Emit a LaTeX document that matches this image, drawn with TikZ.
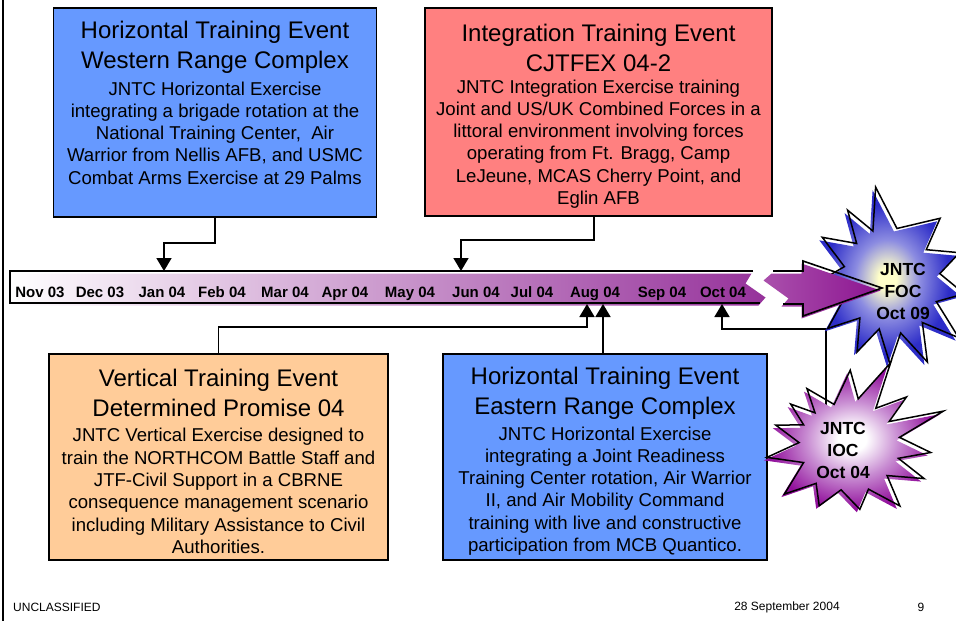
\documentclass[tikz,border=0pt]{standalone}
\usepackage{fontspec}
\setmainfont{Liberation Sans}
\usetikzlibrary{arrows.meta}
\definecolor{boxblue}{RGB}{102,153,255}
\definecolor{boxred}{RGB}{255,128,128}
\definecolor{boxorange}{RGB}{255,204,153}
\definecolor{barpurple}{RGB}{150,50,155}
\definecolor{arrowL}{RGB}{170,80,172}
\definecolor{arrowR}{RGB}{140,20,145}
\definecolor{focblue}{RGB}{45,45,200}
\definecolor{focmid}{RGB}{140,140,225}
\definecolor{foccenter}{RGB}{255,255,200}
\definecolor{iocpurple}{RGB}{145,15,155}
\definecolor{iocmid}{RGB}{200,140,210}
\pgfdeclareradialshading{focsh}{\pgfpointorigin}{color(0bp)=(foccenter); color(3bp)=(foccenter); color(11bp)=(focmid); color(21bp)=(focblue); color(50bp)=(focblue)}
\pgfdeclareradialshading{iocsh}{\pgfpointorigin}{color(0bp)=(white); color(4bp)=(white); color(13bp)=(iocmid); color(24bp)=(iocpurple); color(50bp)=(iocpurple)}
\def\focpts{(-99:92) -- (-82:50) -- (-50:78) -- (-38:46) -- (-20:74) -- (-5:50) -- (12:76) -- (27:52) -- (41:91) -- (54:55) -- (66:92) -- (79:56) -- (90:86) -- (102:52) -- (114:81) -- (127:50) -- (141:80) -- (158:48) -- (176:74) -- (194:47) -- (211:79) -- (226:48) -- (238:80) -- (250:50) -- cycle}
\def\iocpts{(-124:68) -- (-105:42) -- (-86:75) -- (-74:48) -- (-61:94) -- (-50:48) -- (-38:78) -- (-28:50) -- (-19:104) -- (-8:55) -- (5:86) -- (14:55) -- (23:86) -- (36:52) -- (48:82) -- (62:50) -- (77:66) -- (95:45) -- (113:66) -- (127:48) -- (141:78) -- (157:45) -- (171:79) -- (183:46) -- (196:72) -- (206:46) -- (217:68) -- (227:44) -- cycle}
\begin{document}
\begin{tikzpicture}[x=1pt,y=-1pt,
  evbox/.style={draw=black,line width=1.6pt,inner sep=0pt},
  ttl/.style={inner sep=0pt,align=center,font=\fontsize{24}{30}\selectfont},
  bdy/.style={inner sep=0pt,align=center,font=\fontsize{18.6}{22.3}\selectfont},
  mon/.style={inner sep=0pt,anchor=base,font=\bfseries\fontsize{15}{17}\selectfont},
  startxt/.style={inner sep=0pt,align=center,font=\bfseries\fontsize{17.5}{22}\selectfont},
  conn/.style={line width=1.6pt,-{Triangle[width=15pt,length=13pt]}},
  outl/.style={line width=1.6pt},
  starline/.style={line width=1.5pt,line join=miter},
  foot/.style={inner sep=0pt,font=\fontsize{12}{14}\selectfont}]
\useasboundingbox (0,0) rectangle (956,621);
\draw[outl] (3,0) -- (3,621);

% event boxes
\node[evbox,fill=boxblue,minimum width=323pt,minimum height=209pt] (west) at (215,112.5) {};
\node[evbox,fill=boxred,minimum width=347pt,minimum height=208pt] (integ) at (598.5,112) {};
\node[evbox,fill=boxorange,minimum width=339pt,minimum height=206pt] (vert) at (218.5,457) {};
\node[evbox,fill=boxblue,minimum width=324pt,minimum height=206pt] (east) at (605,457) {};

\node[ttl] (westT) at (215,47) {Horizontal Training Event\\Western Range Complex};
\node[bdy] (westB) at (215,133) {JNTC Horizontal Exercise\\integrating a brigade rotation at the\\National Training Center,~ Air\\Warrior from Nellis AFB, and USMC\\Combat Arms Exercise at 29 Palms};
\node[ttl] (integT) at (598.5,47.5) {Integration Training Event\\CJTFEX 04-2};
\node[bdy] (integB) at (598.5,144) {JNTC Integration Exercise training\\Joint and US/UK Combined Forces in a\\littoral environment involving forces\\operating from Ft. Bragg, Camp\\LeJeune, MCAS Cherry Point, and\\Eglin AFB};
\node[ttl] (vertT) at (218.5,393) {Vertical Training Event\\Determined Promise 04};
\node[bdy] (vertB) at (218.5,491) {JNTC Vertical Exercise designed to\\train the NORTHCOM Battle Staff and\\JTF-Civil Support in a CBRNE\\consequence management scenario\\including Military Assistance to Civil\\Authorities.};
\node[ttl] (eastT) at (605,393) {Horizontal Training Event\\Eastern Range Complex};
\node[bdy] (eastB) at (605,491) {JNTC Horizontal Exercise\\integrating a Joint Readiness\\Training Center rotation, Air Warrior\\II, and Air Mobility Command\\training with live and constructive\\participation from MCB Quantico.};

% timeline bar
\shade[left color=white,right color=barpurple,shift={(-1.5,2.5)}] (10,271) -- (753,271) -- (747,281) -- (767,295) -- (760,303) -- (10,303) -- cycle;
\draw[outl] (753,271) -- (10,271) -- (10,303) -- (760,303);

\foreach \n/\x/\t in {m1/40/Nov 03,m2/100/Dec 03,m3/162/Jan 04,m4/222/Feb 04,m5/285/Mar 04,m6/345/Apr 04,m7/410/May 04,m8/476/Jun 04,m9/532/Jul 04,m10/595/Aug 04,m11/662/Sep 04,m12/723/Oct 04}
  \node[mon] (\n) at (\x,297) {\t};

% connector end points
\coordinate (tJan) at (164,271);
\coordinate (tJun) at (461,271);
\coordinate (bAugA) at (587,304);
\coordinate (bAugB) at (603,304);
\coordinate (bOct) at (722,304);
\coordinate (ioc) at (845,445);
\coordinate (foc) at (890,278);

\draw[conn] (west.south) -- ++(0,25) -| (tJan);
\draw[conn] ([xshift=-4.5pt]integ.south) -- ++(0,23) -| (tJun);
\draw[conn] (vert.north) -- ++(0,-26) -| (bAugA);
\draw[conn] (east.north -| bAugB) -- (bAugB);
\draw[conn] ([xshift=-19pt]ioc) -- ++(0,-116) -| (bOct);

% FOC star
\shade[shading=focsh,shift={(887,281)}] \focpts;
\draw[starline,shift={(890,278)}] \focpts;

% arrow past the break
\shade[left color=arrowL,right color=arrowR,shift={(-1.5,2.5)}] (773,271) -- (803,271) -- (803,261) -- (882,288) -- (803,316) -- (803,304) -- (783,304) -- (790,296) -- (765,278) -- cycle;
\draw[outl,line join=miter] (773,271) -- (803,271) -- (803,261) -- (882,288) -- (803,316) -- (803,304) -- (783,304);

% IOC star
\shade[shading=iocsh,shift={(842,448)}] \iocpts;
\draw[starline,shift={(845,445)}] \iocpts;

\node[startxt] (focT) at (903,291) {JNTC\\FOC\\Oct 09};
\node[startxt] (iocT) at (843,450) {JNTC\\IOC\\Oct 04};

% footer
\node[foot,anchor=west] (cls) at (13,607) {UNCLASSIFIED};
\node[foot] (date) at (787,607) {28 September 2004};
\node[foot] (page) at (921,607) {9};
\end{tikzpicture}
\end{document}
